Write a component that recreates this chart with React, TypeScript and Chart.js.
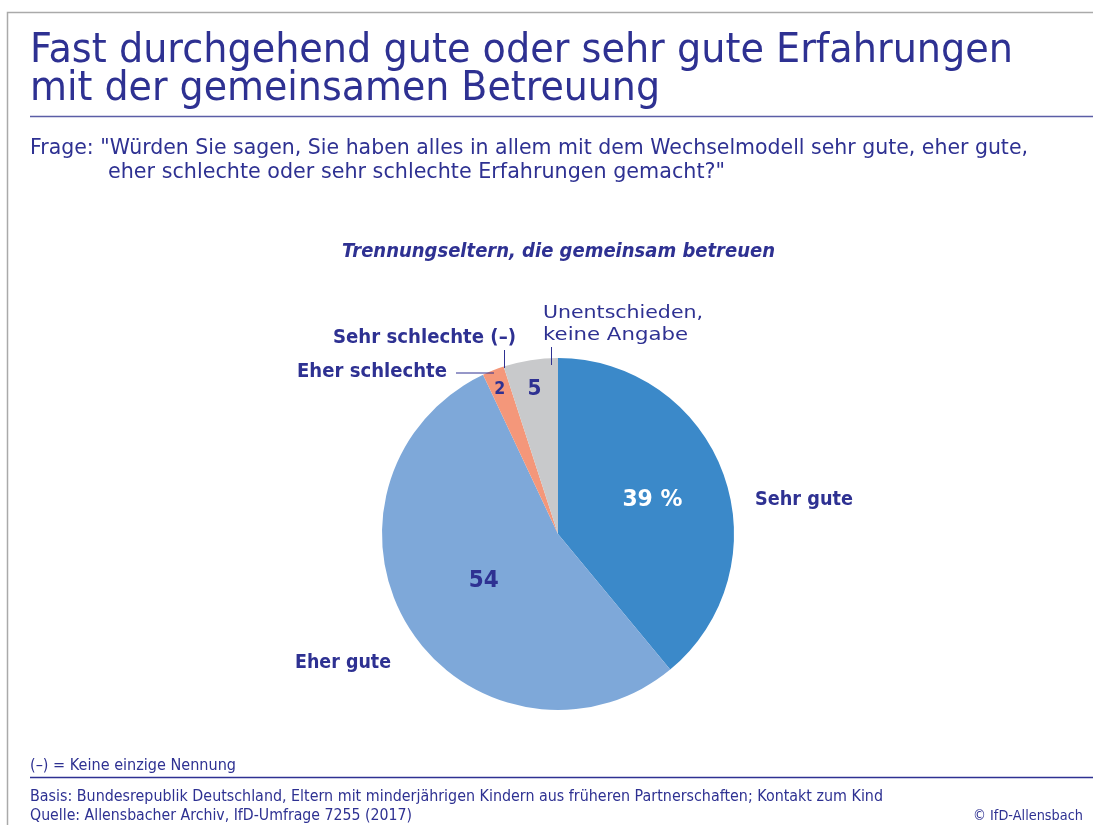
import React, { useEffect, useRef } from "react";
import { Chart, registerables } from "chart.js";

Chart.register(...registerables);

const categories = ["Sehr gute", "Eher gute", "Eher schlechte", "Sehr schlechte", "Unentschieden, keine Angabe"];
const values = [39, 54, 2, 0, 5];
const valueLabels = ["39 %", "54", "2", "", "5"];
const colors = ["#3b89c9", "#7ea8d9", "#f4977a", "#e0603a", "#c8c9cb"];

const NAVY = "#2e3192";
const FONT = "'DejaVu Sans', sans-serif";
const MIN_SX = 0.93;

// label placement inside slices: radial fraction, font size, target width, colour
const valueStyle = [
  { frac: 0.57, size: 26, w: 60, color: "#ffffff", dy: -4 },
  { frac: 0.5, size: 25, w: 30, color: NAVY, dy: -3 },
  { frac: 0.9, size: 20, w: 11, color: NAVY, dy: 0 },
  { frac: 0.0, size: 0, w: 0, color: NAVY, dy: 0 },
  { frac: 0.85, size: 25, w: 14, color: NAVY, dy: 0 },
];

type T = {
  text: string;
  x: number;
  y: number; // baseline
  size: number;
  w: number; // target width
  weight?: string;
  style?: string;
  color?: string;
  align?: "left" | "right" | "center";
};

const texts: T[] = [
  { text: "Fast durchgehend gute oder sehr gute Erfahrungen", x: 30, y: 62, size: 40, w: 983 },
  { text: "mit der gemeinsamen Betreuung", x: 30, y: 100, size: 40, w: 630 },
  { text: "Frage: \"Würden Sie sagen, Sie haben alles in allem mit dem Wechselmodell sehr gute, eher gute,", x: 30, y: 154, size: 20.5, w: 998 },
  { text: "eher schlechte oder sehr schlechte Erfahrungen gemacht?\"", x: 108, y: 178, size: 20.5, w: 617 },
  { text: "Trennungseltern, die gemeinsam betreuen", x: 342, y: 257, size: 19.5, w: 433, weight: "bold", style: "italic" },
  { text: "Sehr gute", x: 755, y: 505, size: 20.5, w: 98, weight: "bold" },
  { text: "Eher gute", x: 295, y: 668, size: 20.5, w: 96, weight: "bold" },
  { text: "Eher schlechte", x: 297, y: 377, size: 20, w: 150, weight: "bold" },
  { text: "Sehr schlechte (–)", x: 333, y: 343, size: 21, w: 183, weight: "bold" },
  { text: "Unentschieden,", x: 543, y: 318, size: 18.5, w: 160 },
  { text: "keine Angabe", x: 543, y: 340, size: 18.5, w: 145 },
  { text: "(–) = Keine einzige Nennung", x: 30, y: 770, size: 16, w: 206 },
  { text: "Basis: Bundesrepublik Deutschland, Eltern mit minderjährigen Kindern aus früheren Partnerschaften; Kontakt zum Kind", x: 30, y: 801, size: 15, w: 853 },
  { text: "Quelle: Allensbacher Archiv, IfD-Umfrage 7255 (2017)", x: 30, y: 820, size: 15, w: 382 },
  { text: "© IfD-Allensbach", x: 1083, y: 820, size: 15, w: 110, align: "right" },
];

function drawText(ctx: CanvasRenderingContext2D, t: T) {
  ctx.save();
  const fontOf = (s: number) => `${t.style || "normal"} ${t.weight || "normal"} ${s}px ${FONT}`;
  let size = t.size;
  ctx.font = fontOf(size);
  let m = ctx.measureText(t.text).width;
  let sx = t.w / m;
  if (sx < MIN_SX) {
    size = (size * sx) / MIN_SX;
    ctx.font = fontOf(size);
    m = ctx.measureText(t.text).width;
    sx = t.w / m;
  }
  ctx.fillStyle = t.color || NAVY;
  ctx.textBaseline = "alphabetic";
  ctx.textAlign = "left";
  let x0 = t.x;
  if (t.align === "right") x0 = t.x - t.w;
  if (t.align === "center") x0 = t.x - t.w / 2;
  ctx.translate(x0, t.y);
  ctx.scale(sx, 1);
  ctx.fillText(t.text, 0, 0);
  ctx.restore();
}

function line(ctx: CanvasRenderingContext2D, pts: number[][], color: string, w: number) {
  ctx.save();
  ctx.strokeStyle = color;
  ctx.lineWidth = w;
  ctx.beginPath();
  ctx.moveTo(pts[0][0], pts[0][1]);
  for (let i = 1; i < pts.length; i++) ctx.lineTo(pts[i][0], pts[i][1]);
  ctx.stroke();
  ctx.restore();
}

const decorPlugin = {
  id: "decor",
  beforeDraw(chart: any) {
    const ctx = chart.ctx as CanvasRenderingContext2D;
    ctx.save();
    ctx.fillStyle = "#ffffff";
    ctx.fillRect(0, 0, chart.width, chart.height);
    ctx.restore();
    line(ctx, [[7.5, 825], [7.5, 12.5], [1093, 12.5]], "#aaaaaa", 1.5);
  },
  afterDraw(chart: any) {
    const ctx = chart.ctx as CanvasRenderingContext2D;
    line(ctx, [[30, 116.5], [1093, 116.5]], "#5b5ea6", 1.5);
    line(ctx, [[30, 777.5], [1093, 777.5]], NAVY, 1.5);
    texts.forEach((t) => drawText(ctx, t));
    // leader lines
    line(ctx, [[456, 373], [494, 373]], NAVY, 1);
    line(ctx, [[504.5, 350], [504.5, 368]], NAVY, 1);
    line(ctx, [[551.5, 347], [551.5, 365]], NAVY, 1);
    // value labels
    const meta = chart.getDatasetMeta(0);
    meta.data.forEach((arc: any, i: number) => {
      const lbl = valueLabels[i];
      if (!lbl) return;
      const st = valueStyle[i];
      const p = arc.getProps(["x", "y", "startAngle", "endAngle", "outerRadius"], true);
      const mid = (p.startAngle + p.endAngle) / 2;
      const r = p.outerRadius * st.frac;
      const cx = p.x + Math.cos(mid) * r;
      const cy = p.y + Math.sin(mid) * r + st.dy;
      drawText(ctx, {
        text: lbl,
        x: cx,
        y: cy + st.size * 0.365,
        size: st.size,
        w: st.w,
        weight: "bold",
        color: st.color,
        align: "center",
      });
    });
  },
};

export default function App() {
  const ref = useRef<HTMLCanvasElement | null>(null);
  useEffect(() => {
    if (!ref.current) return;
    const chart = new Chart(ref.current, {
      type: "pie",
      data: {
        labels: categories,
        datasets: [
          {
            data: values,
            backgroundColor: colors,
            borderWidth: 0,
          },
        ],
      },
      options: {
        responsive: false,
        animation: false,
        devicePixelRatio: 1,
        layout: { padding: { left: 382, right: 359, top: 358, bottom: 115 } },
        plugins: { legend: { display: false }, tooltip: { enabled: false } },
      },
      plugins: [decorPlugin],
    });
    return () => chart.destroy();
  }, []);
  return (
    <div style={{ position: "absolute", left: 0, top: 0, width: 1093, height: 825, background: "#fff" }}>
      <canvas ref={ref} width={1093} height={825} style={{ display: "block", width: 1093, height: 825 }} />
    </div>
  );
}
